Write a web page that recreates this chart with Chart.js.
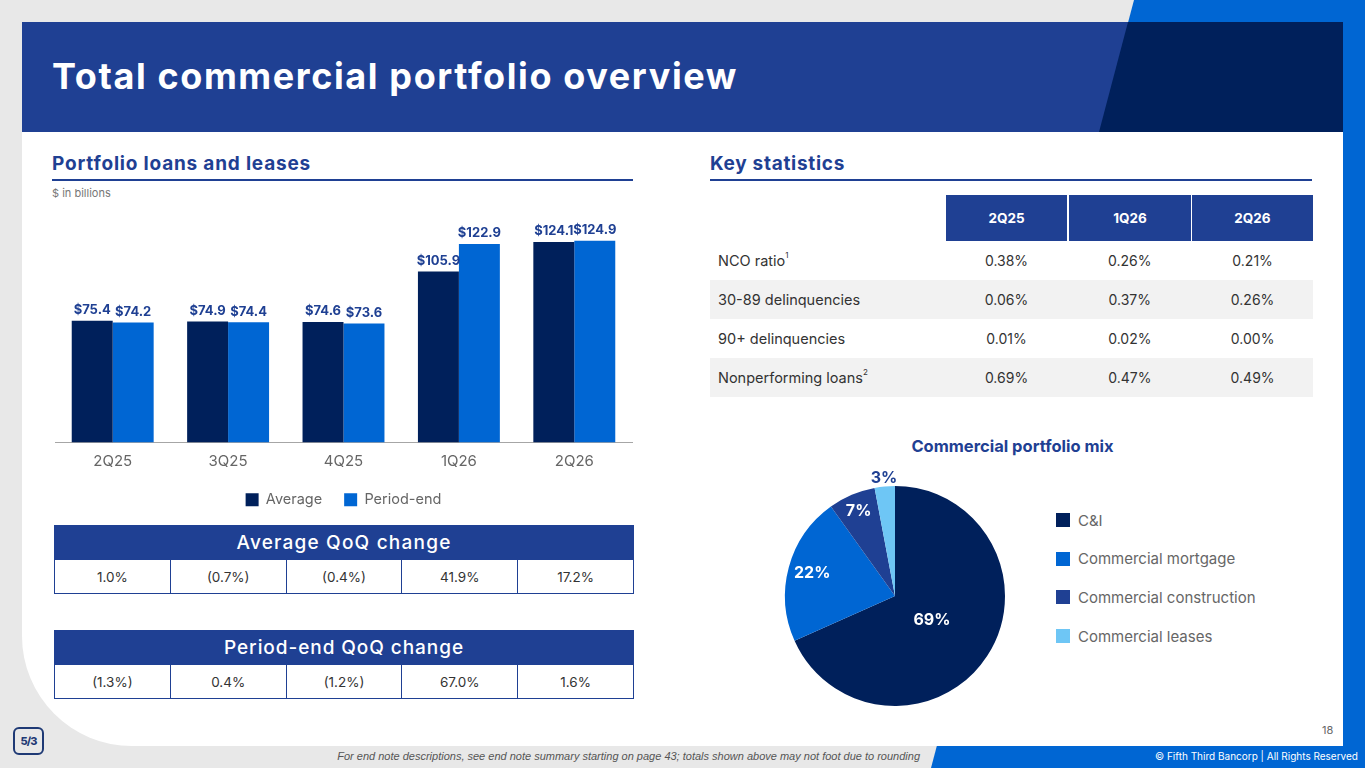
<!DOCTYPE html>
<html>
<head>
<meta charset="utf-8">
<script src="https://cdn.jsdelivr.net/npm/chart.js@4.4.1/dist/chart.umd.min.js"></script>
<style>
  html,body{margin:0;padding:0;}
  body{width:1365px;height:768px;overflow:hidden;background:#e8e8e8;position:relative;font-family:Inter,"Open Sans",sans-serif;color:#333;}
  .abs{position:absolute;}
  #blue{left:0;top:0;width:1365px;height:768px;background:#0066d3;clip-path:polygon(1134px 0,1365px 0,1365px 768px,931px 768px);}
  #panel{left:22px;top:22px;width:1321px;height:724px;background:#fff;border-bottom-left-radius:110px;}
  #header{left:22px;top:22px;width:1321px;height:110px;background:#1f4093;}
  #headerDark{left:0;top:0;width:1321px;height:110px;background:#00205b;clip-path:polygon(1106px 0,1321px 0,1321px 110px,1077px 110px);}
  #title{left:52px;top:58px;font-size:36px;line-height:36px;font-weight:700;color:#fff;white-space:nowrap;}
  .sec{font-size:19px;line-height:20px;font-weight:700;color:#1f4093;white-space:nowrap;}
  .rule{height:2px;background:#1f4093;}
  #unit{left:52px;top:186px;font-size:11px;color:#777;}
  .qhead{background:#1f4093;color:#fff;font-size:19px;font-weight:500;text-align:center;display:flex;align-items:center;justify-content:center;}
  .qhead span{white-space:nowrap;}
  .qrow{display:flex;box-sizing:border-box;border:1px solid #1f4093;border-top:none;}
  .qrow div{flex:1;text-align:center;font-size:13.5px;color:#333;border-left:1px solid #1f4093;display:flex;align-items:center;justify-content:center;}
  .qrow div:first-child{border-left:none;}
  .sh{background:#1f4093;color:#fff;font-weight:700;font-size:13.5px;display:flex;align-items:center;justify-content:center;}
  .srow{left:710px;width:603px;height:39px;display:flex;align-items:center;}
  .srow.g{background:#f2f2f2;}
  .srow .lab{width:236px;padding-left:8px;box-sizing:border-box;font-size:14.5px;color:#333;white-space:nowrap;}
  .srow .v{width:122px;text-align:center;font-size:14px;color:#333;}
  .srow .v:nth-child(3){margin-left:1px;width:123px;}
  .srow .v:nth-child(4){margin-left:1px;width:121px;}
  sup{font-size:8px;vertical-align:top;position:relative;top:-2px;}
  #pieTitle{left:880px;top:436px;width:265px;text-align:center;font-size:16.5px;font-weight:700;color:#1f4093;white-space:nowrap;}
  .lg{left:1056px;height:14px;display:flex;align-items:center;font-size:15px;color:#666;white-space:nowrap;}
  .lg span.b{width:14px;height:14px;margin-right:8px;display:inline-block;}
  #foot{right:445px;top:750px;font-size:11px;font-style:italic;color:#555;white-space:nowrap;font-family:"Liberation Sans",sans-serif;}
  #copy{right:7px;top:750px;font-size:10px;color:#fff;white-space:nowrap;}
  #page{left:1322px;top:723px;font-size:11px;color:#666;}
  #logo{left:13px;top:727px;width:27px;height:24px;border:2px solid #1f3a75;border-radius:6px;display:flex;align-items:center;justify-content:center;font-size:11px;font-weight:800;color:#1f3a75;letter-spacing:-1px;}
</style>
</head>
<body>
<div id="blue" class="abs"></div>
<div id="panel" class="abs"></div>
<div id="header" class="abs"><div id="headerDark" class="abs"></div></div>
<div id="title" class="abs">Total commercial portfolio overview</div>

<div class="abs sec" id="secL" style="left:52px;top:154px;">Portfolio loans and leases</div>
<div class="abs rule" style="left:52px;top:179px;width:581px;"></div>
<div class="abs" id="unit">$ in billions</div>

<div class="abs sec" id="secR" style="left:710px;top:154px;">Key statistics</div>
<div class="abs rule" style="left:710px;top:179px;width:602px;"></div>

<div class="abs" style="left:40px;top:205px;width:610px;height:312px;"><canvas id="bar"></canvas></div>

<div class="abs qhead" style="left:54px;top:525px;width:580px;height:35px;"><span id="qh1">Average QoQ change</span></div>
<div class="abs qrow" id="avgRow" style="left:54px;top:560px;width:580px;height:34px;"></div>
<div class="abs qhead" style="left:54px;top:630px;width:580px;height:35px;"><span id="qh2">Period-end QoQ change</span></div>
<div class="abs qrow" id="peRow" style="left:54px;top:665px;width:580px;height:34px;"></div>

<div id="stats"></div>

<div class="abs" id="pieTitle">Commercial portfolio mix</div>
<div class="abs" style="left:755px;top:456px;width:280px;height:280px;"><canvas id="pie"></canvas></div>
<div id="pieLegend"></div>

<div class="abs" id="page">18</div>
<div class="abs" id="logo">5/3</div>
<div class="abs" id="foot">For end note descriptions, see end note summary starting on page 43; totals shown above may not foot due to rounding</div>
<div class="abs" id="copy">© Fifth Third Bancorp | All Rights Reserved</div>

<script>
// ---------------- DATA ----------------
const quarters = ['2Q25', '3Q25', '4Q25', '1Q26', '2Q26'];
const averageLoans = [75.4, 74.9, 74.6, 105.9, 124.1];
const periodEndLoans = [74.2, 74.4, 73.6, 122.9, 124.9];
const seriesNames = ['Average', 'Period-end'];
const averageQoQ = ['1.0%', '(0.7%)', '(0.4%)', '41.9%', '17.2%'];
const periodEndQoQ = ['(1.3%)', '0.4%', '(1.2%)', '67.0%', '1.6%'];

const statColumns = ['2Q25', '1Q26', '2Q26'];
const statLabels = ['NCO ratio', '30-89 delinquencies', '90+ delinquencies', 'Nonperforming loans'];
const statNotes = ['1', '', '', '2'];
const ncoRatio = ['0.38%', '0.26%', '0.21%'];
const delinq3089 = ['0.06%', '0.37%', '0.26%'];
const delinq90 = ['0.01%', '0.02%', '0.00%'];
const nonperforming = ['0.69%', '0.47%', '0.49%'];

const mixLabels = ['C&I', 'Commercial mortgage', 'Commercial construction', 'Commercial leases'];
const mixValues = [69, 22, 7, 3];

// ---------------- STYLE ----------------
const NAVY = '#00205b', MID = '#1f4093', BRIGHT = '#0066d3', LIGHT = '#6ec6f5';
const mixColors = [NAVY, BRIGHT, MID, LIGHT];

// QoQ rows
function fillRow(id, vals){
  const el = document.getElementById(id);
  vals.forEach(v => { const d = document.createElement('div'); d.textContent = v; el.appendChild(d); });
}
fillRow('avgRow', averageQoQ);
fillRow('peRow', periodEndQoQ);

// Key statistics table
(function(){
  const host = document.getElementById('stats');
  const colX = [946, 1069, 1192], colW = [121, 122, 121];
  statColumns.forEach((c, i) => {
    const d = document.createElement('div');
    d.className = 'abs sh';
    d.style.cssText = `left:${colX[i]}px;top:195px;width:${colW[i]}px;height:46px;`;
    d.textContent = c;
    host.appendChild(d);
  });
  const rows = [ncoRatio, delinq3089, delinq90, nonperforming];
  rows.forEach((r, i) => {
    const d = document.createElement('div');
    d.className = 'abs srow' + (i % 2 ? ' g' : '');
    d.style.top = (241 + i * 39) + 'px';
    let html = `<div class="lab">${statLabels[i]}${statNotes[i] ? '<sup>' + statNotes[i] + '</sup>' : ''}</div>`;
    r.forEach(v => html += `<div class="v">${v}</div>`);
    d.innerHTML = html;
    host.appendChild(d);
  });
})();

// Pie legend
(function(){
  const host = document.getElementById('pieLegend');
  mixLabels.forEach((l, i) => {
    const d = document.createElement('div');
    d.className = 'abs lg';
    d.style.top = (513 + i * 38.7) + 'px';
    d.innerHTML = `<span class="b" style="background:${mixColors[i]}"></span>${l.replace('&', '&amp;')}`;
    host.appendChild(d);
  });
})();

// Fit headline widths
function fitWidth(id, target){
  const el = document.getElementById(id);
  const w = el.getBoundingClientRect().width;
  const n = el.textContent.length;
  let ls = (target - w) / n;
  ls = Math.max(-2, Math.min(3, ls));
  el.style.letterSpacing = ls + 'px';
}
fitWidth('title', 686);
fitWidth('secL', 259);
fitWidth('secR', 135);
fitWidth('qh1', 215);
fitWidth('qh2', 240);

Chart.defaults.font.family = 'Inter';
Chart.defaults.animation = false;

const barLabels = {
  id: 'barLabels',
  afterDatasetsDraw(chart){
    const ctx = chart.ctx;
    ctx.save();
    ctx.font = '700 13px Inter';
    ctx.fillStyle = MID;
    ctx.textAlign = 'center';
    ctx.textBaseline = 'bottom';
    chart.data.datasets.forEach((ds, i) => {
      chart.getDatasetMeta(i).data.forEach((bar, j) => {
        ctx.fillText('$' + ds.data[j].toFixed(1), bar.x, bar.y - 4);
      });
    });
    ctx.restore();
  }
};

new Chart(document.getElementById('bar'), {
  type: 'bar',
  data: {
    labels: quarters,
    datasets: [
      { label: seriesNames[0], data: averageLoans, backgroundColor: NAVY, borderWidth: 0 },
      { label: seriesNames[1], data: periodEndLoans, backgroundColor: BRIGHT, borderWidth: 0 }
    ]
  },
  options: {
    responsive: true,
    maintainAspectRatio: false,
    layout: { padding: { left: 15, right: 18, top: 0, bottom: 0 } },
    datasets: { bar: { barPercentage: 1, categoryPercentage: 0.71 } },
    scales: {
      x: {
        grid: { display: false, drawTicks: false },
        border: { display: true, color: '#a6a6a6', width: 1 },
        ticks: { color: '#666', font: { size: 15 }, padding: 10 },
        afterFit: s => { s.height = 28; }
      },
      y: { display: false, min: 0, max: 147 }
    },
    plugins: {
      legend: {
        position: 'bottom',
        labels: { boxWidth: 13, boxHeight: 13, padding: 22, color: '#666', font: { size: 14.5 } }
      },
      tooltip: { enabled: false }
    }
  },
  plugins: [barLabels]
});

const pieLabels = {
  id: 'pieLabels',
  afterDatasetsDraw(chart, args, opts){
    const ctx = chart.ctx;
    ctx.save();
    ctx.font = '700 16px Inter';
    ctx.textAlign = 'center';
    ctx.textBaseline = 'middle';
    chart.getDatasetMeta(0).data.forEach((arc, i) => {
      const mid = (arc.startAngle + arc.endAngle) / 2;
      const r = arc.outerRadius * opts.radial[i];
      ctx.fillStyle = opts.colors[i];
      ctx.fillText(mixValues[i] + '%', arc.x + Math.cos(mid) * r, arc.y + Math.sin(mid) * r);
    });
    ctx.restore();
  }
};

new Chart(document.getElementById('pie'), {
  type: 'pie',
  data: {
    labels: mixLabels,
    datasets: [{ data: mixValues, backgroundColor: mixColors, borderWidth: 0 }]
  },
  options: {
    responsive: true,
    maintainAspectRatio: false,
    layout: { padding: 30 },
    plugins: {
      legend: { display: false },
      tooltip: { enabled: false },
      pieLabels: { radial: [0.4, 0.78, 0.84, 1.08], colors: ['#fff', '#fff', '#fff', MID] }
    }
  },
  plugins: [pieLabels]
});
</script>
</body>
</html>
